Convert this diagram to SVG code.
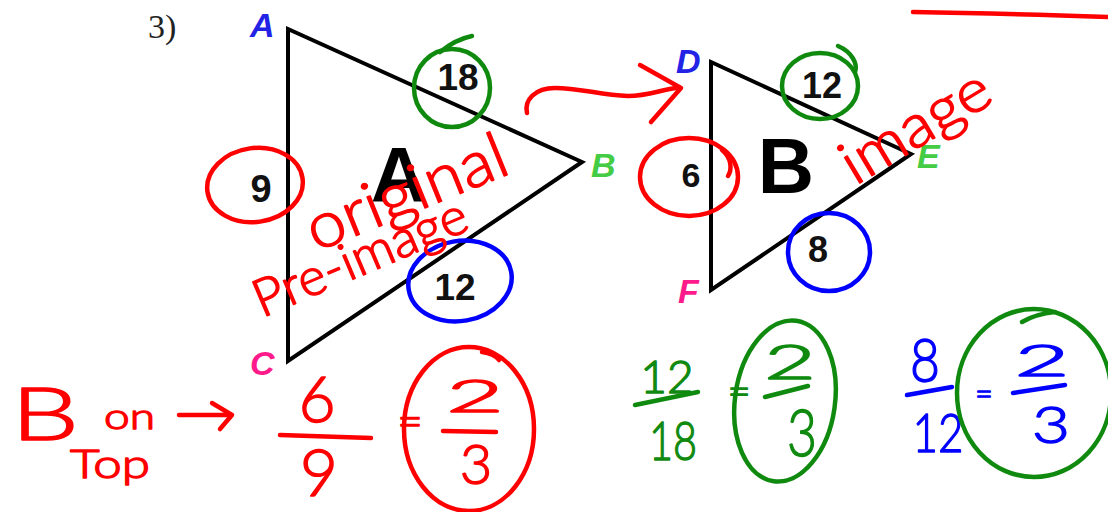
<svg xmlns="http://www.w3.org/2000/svg" width="1108" height="512" viewBox="0 0 1108 512">
<style>
.tri{fill:none;stroke:#000;stroke-width:4;stroke-linejoin:miter}
.num{font-family:"Liberation Sans",Arial,sans-serif;font-weight:bold;fill:#111;text-anchor:middle}
.big{font-family:"Liberation Sans",Arial,sans-serif;font-weight:bold;fill:#000;text-anchor:middle;font-size:78px}
.lbl{font-family:"Liberation Sans",Arial,sans-serif;font-weight:bold;font-style:italic;font-size:34px}
.hw{font-family:Lato,"Open Sans","Liberation Sans",sans-serif;font-weight:300;stroke-width:1.4;stroke-linejoin:round}
.ink{fill:none;stroke-width:4.5;stroke-linecap:round;stroke-linejoin:round}
.r{stroke:#ff0000}.g{stroke:#0f8a0f}.b{stroke:#0000ff}
.rt{fill:#ff0000;stroke:#ff0000}.gt{fill:#0f8a0f;stroke:#0f8a0f}.bt{fill:#0000ff;stroke:#0000ff}
</style>
<rect width="1108" height="512" fill="#fff"/>
<text x="148" y="38" font-family="Liberation Serif,serif" font-size="34" fill="#222">3)</text>

<g id="triangleA">
<polygon class="tri" points="288,29 582,162 288,361"/>
<text class="big" x="399" y="202" font-size="76">A</text>
<text class="lbl" x="250" y="37" fill="#2323e6">A</text>
<text class="lbl" x="591" y="177" fill="#44cc44">B</text>
<text class="lbl" x="250" y="375" fill="#ff1a8c">C</text>
<text class="num" x="458" y="90" font-size="37">18</text>
<text class="num" x="261" y="202" font-size="38">9</text>
<text class="num" x="455" y="300" font-size="37">12</text>
</g>

<g id="triangleB">
<polygon class="tri" points="711,62 911,154 711,290"/>
<text class="big" x="786" y="193">B</text>
<text class="lbl" x="676" y="73" fill="#2323e6">D</text>
<text class="lbl" x="917" y="168" fill="#44cc44">E</text>
<text class="lbl" x="678" y="303" fill="#ff1a8c">F</text>
<text class="num" x="822" y="98" font-size="36">12</text>
<text class="num" x="691" y="187" font-size="34">6</text>
<text class="num" x="818" y="262" font-size="36">8</text>
</g>

<g id="circles">
<ellipse class="ink g" cx="452" cy="88" rx="38" ry="39"/>
<path class="ink g" d="M440,52 C450,44 462,38 472,36"/>
<ellipse class="ink r" cx="255" cy="185" rx="48" ry="37" transform="rotate(-8 255 185)"/>
<ellipse class="ink b" cx="460" cy="281" rx="52" ry="40" transform="rotate(-10 460 281)"/>
<ellipse class="ink g" cx="820" cy="86" rx="38" ry="33"/>
<path class="ink g" d="M838,46 C852,52 858,64 855,72"/>
<ellipse class="ink r" cx="689" cy="177" rx="49" ry="39"/>
<path class="ink r" d="M722,150 C732,158 732,170 728,176"/>
<ellipse class="ink b" cx="829" cy="252" rx="41" ry="39"/>
</g>

<g id="annotations">
<text class="hw rt" transform="translate(316,252) rotate(-22)" font-size="64" textLength="212" lengthAdjust="spacingAndGlyphs">original</text>
<text class="hw rt" transform="translate(262,318) rotate(-23)" font-size="52" textLength="228" lengthAdjust="spacingAndGlyphs">Pre-image</text>
<text class="hw rt" transform="translate(855,186) rotate(-31)" font-size="60" textLength="165" lengthAdjust="spacingAndGlyphs">image</text>
<path class="ink r" d="M913,12 C980,13 1050,15 1108,17"/>
</g>

<g id="connectors">
<path class="ink r" d="M527,113 C524,100 535,88 555,88 C580,88 600,95 628,96 C648,96 660,90 676,88"/>
<path class="ink r" d="M640,65 L681,88 L651,122"/>
</g>

<g id="ratioRed">
<text class="hw rt" x="11" y="440" font-size="72" textLength="68" lengthAdjust="spacingAndGlyphs">B</text>
<text class="hw rt" x="104" y="429" font-size="36" textLength="51" lengthAdjust="spacingAndGlyphs">on</text>
<text class="hw rt" x="70" y="478" font-size="40" textLength="80" lengthAdjust="spacingAndGlyphs">Top</text>
<path class="ink r" d="M179,415 L232,415 M212,403 L232,415 L220,429"/>
<text class="hw rt" x="317" y="422" font-size="64" text-anchor="middle">6</text>
<path class="ink r" d="M280,435 L371,438"/>
<text class="hw rt" x="319" y="496" font-size="66" text-anchor="middle">9</text>
<text class="hw rt" x="410" y="437" font-size="44" text-anchor="middle">=</text>
<text class="hw rt" x="475" y="412" font-size="46" text-anchor="middle" textLength="58" lengthAdjust="spacingAndGlyphs">2</text>
<path class="ink r" d="M443,431 L496,432"/>
<text class="hw rt" x="476" y="484" font-size="56" text-anchor="middle">3</text>
<ellipse class="ink r" cx="469" cy="429" rx="65" ry="82"/>
<path class="ink r" d="M482,352 C490,353 496,356 499,360"/>
</g>

<g id="ratioGreen">
<text class="hw gt" x="667" y="393" font-size="46" text-anchor="middle">12</text>
<path class="ink g" d="M635,405 L698,392"/>
<text class="hw gt" x="673" y="460" font-size="54" text-anchor="middle" textLength="48" lengthAdjust="spacingAndGlyphs">18</text>
<text class="hw gt" x="739" y="405" font-size="40" text-anchor="middle">=</text>
<text class="hw gt" x="790" y="379" font-size="48" text-anchor="middle" textLength="52" lengthAdjust="spacingAndGlyphs">2</text>
<path class="ink g" d="M765,397 L808,386"/>
<text class="hw gt" x="802" y="456" font-size="66" text-anchor="middle" textLength="30" lengthAdjust="spacingAndGlyphs">3</text>
<ellipse class="ink g" cx="785" cy="401" rx="50" ry="81" transform="rotate(8 785 401)"/>
</g>

<g id="ratioBlue">
<text class="hw bt" x="925" y="382" font-size="62" text-anchor="middle" textLength="30" lengthAdjust="spacingAndGlyphs">8</text>
<path class="ink b" d="M907,395 L952,387"/>
<text class="hw bt" x="938" y="452" font-size="54" text-anchor="middle" textLength="51" lengthAdjust="spacingAndGlyphs">12</text>
<text class="hw bt" x="984" y="404" font-size="30" text-anchor="middle">=</text>
<text class="hw bt" x="1042" y="376" font-size="44" text-anchor="middle" textLength="55" lengthAdjust="spacingAndGlyphs">2</text>
<path class="ink b" d="M1013,393 L1065,385"/>
<text class="hw bt" x="1051" y="443" font-size="52" text-anchor="middle" textLength="38" lengthAdjust="spacingAndGlyphs">3</text>
<ellipse class="ink g" cx="1034" cy="393" rx="77" ry="84"/>
<path class="ink g" d="M1022,322 C1032,316 1045,313 1055,312"/>
</g>
</svg>
